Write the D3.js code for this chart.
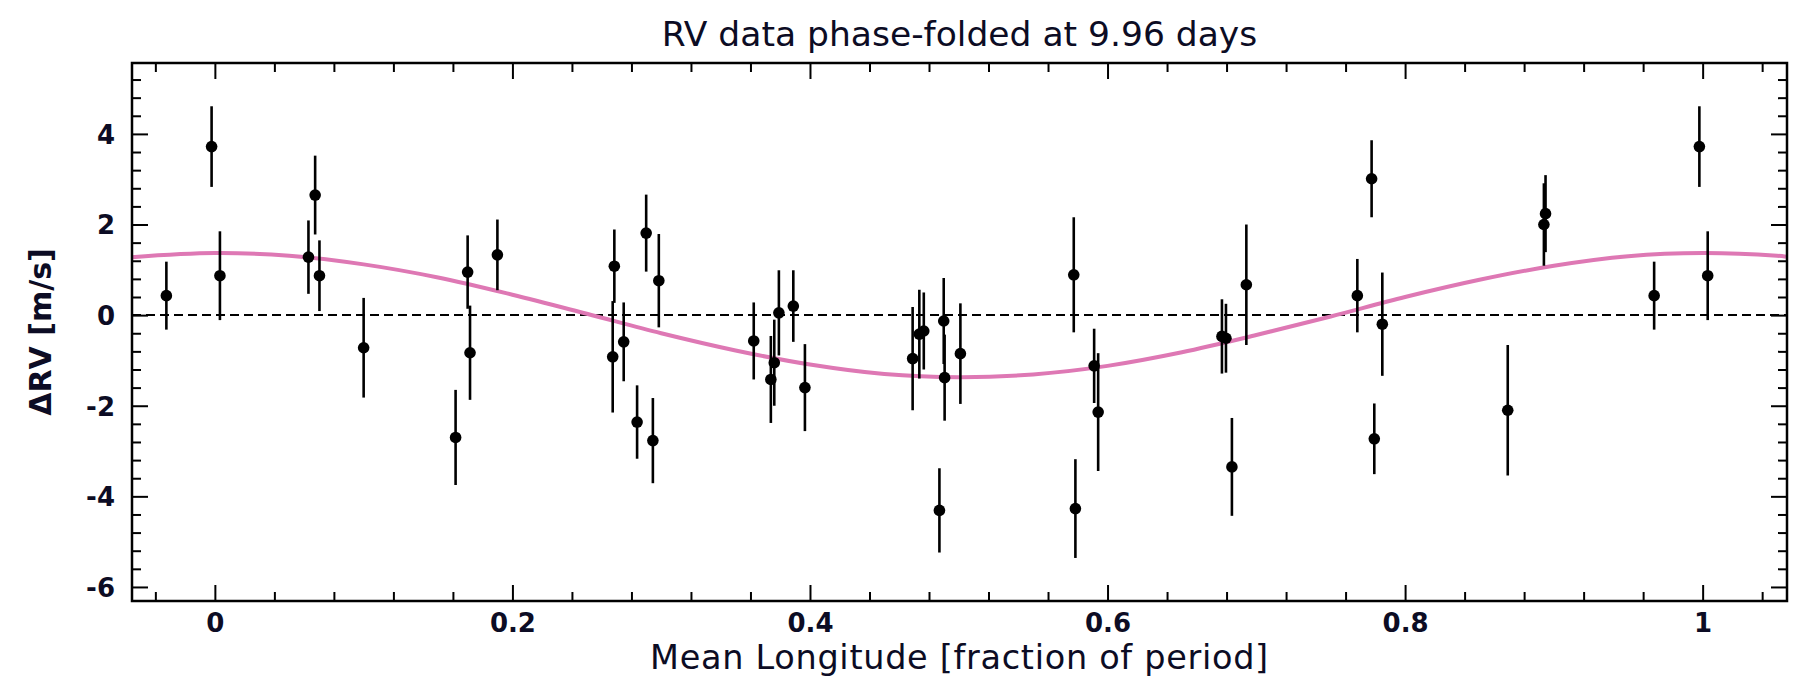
<!DOCTYPE html>
<html>
<head>
<meta charset="utf-8">
<script src="https://cdn.jsdelivr.net/npm/d3@7"></script>
<style>
  body { margin: 0; background: #fff; }
  text { font-family: "DejaVu Sans", Verdana, sans-serif; fill: #0c0c24; }
</style>
</head>
<body>
<div class="canvas"></div>
<script>

// phase-folded RV points (phase in [0,1), values in m/s)
const phase = [0.0034, 0.0629, 0.0674, 0.0703, 0.1000, 0.1618, 0.1699, 0.1715, 0.1899,
  0.2674, 0.2685, 0.2748, 0.2838, 0.2899, 0.2944, 0.2984, 0.3622, 0.3737, 0.3760, 0.3791,
  0.3888, 0.3966, 0.4690, 0.4735, 0.4765, 0.4870, 0.4899, 0.4905, 0.5011, 0.5773, 0.5784,
  0.5910, 0.5937, 0.6769, 0.6796, 0.6836, 0.6933, 0.7679, 0.7775, 0.7793, 0.7847, 0.8690,
  0.8933, 0.8944, 0.9674, 0.9978];
const rv = [0.87, 1.28, 2.65, 0.87, -0.72, -2.70, 0.95, -0.83, 1.33,
  -0.92, 1.08, -0.59, -2.36, 1.81, -2.77, 0.76, -0.57, -1.42, -1.05, 0.05,
  0.20, -1.60, -0.96, -0.42, -0.35, -4.31, -0.13, -1.38, -0.85, 0.89, -4.27,
  -1.12, -2.14, -0.47, -0.51, -3.35, 0.67, 0.43, 3.01, -2.73, -0.20, -2.10,
  2.00, 2.24, 0.43, 3.72];
const rvErr = [0.98, 0.81, 0.87, 0.78, 1.10, 1.05, 0.81, 1.04, 0.78,
  1.23, 0.81, 0.87, 0.81, 0.85, 0.94, 1.03, 0.85, 0.96, 0.95, 0.94,
  0.79, 0.96, 1.14, 0.98, 0.85, 0.93, 0.95, 0.95, 1.11, 1.27, 1.09,
  0.82, 1.30, 0.82, 0.76, 1.08, 1.33, 0.81, 0.85, 0.78, 1.14, 1.44,
  0.91, 0.85, 0.75, 0.89];

// fitted model curve
const curvePhase = [-0.056, 0, 0.05, 0.10, 0.15, 0.20, 0.25, 0.30, 0.35, 0.40, 0.45, 0.50,
  0.55, 0.60, 0.65, 0.70, 0.75, 0.80, 0.85, 0.90, 0.95, 1.00, 1.05, 1.056];
const curveRv = [1.28, 1.37, 1.31, 1.12, 0.83, 0.45, 0.03, -0.40, -0.78, -1.09, -1.30, -1.37,
  -1.31, -1.12, -0.82, -0.44, -0.03, 0.40, 0.78, 1.09, 1.30, 1.37, 1.31, 1.29];

const xMajor = [0, 0.2, 0.4, 0.6, 0.8, 1];
const yMajor = [-6, -4, -2, 0, 2, 4];

const titleText = "RV data phase-folded at 9.96 days";
const xTitle = "Mean Longitude [fraction of period]";
const yTitle = "ΔRV [m/s]";

const svgWidth = 1793;
const svgHeight = 692;
const margin = {top: 63, right: 6, bottom: 91, left: 132};
const graphWidth = svgWidth - margin.left - margin.right;
const graphHeight = svgHeight - margin.top - margin.bottom;

const svg = d3.select('.canvas')
  .append('svg')
    .attr('width', svgWidth)
    .attr('height', svgHeight);

const graph = svg.append('g')
  .attr('transform', `translate(${margin.left},${margin.top})`);

const x = d3.scaleLinear().domain([-0.0557, 1.0567]).range([0, graphWidth]);
const y = d3.scaleLinear().domain([-6.31, 5.565]).range([graphHeight, 0]);

const xMinor = d3.range(-0.04, 1.05, 0.04).map(d => +d.toFixed(2))
  .filter(d => !xMajor.some(m => Math.abs(m - d) < 1e-6));
const yMinor = d3.range(-6, 5.3, 0.4).map(d => +d.toFixed(1))
  .filter(d => !yMajor.some(m => Math.abs(m - d) < 1e-6));

// zero line
graph.append('line')
  .attr('x1', 0).attr('x2', graphWidth)
  .attr('y1', y(0)).attr('y2', y(0))
  .attr('stroke', '#000')
  .attr('stroke-width', 2)
  .attr('stroke-dasharray', '9,5');

// model curve
const curveData = curvePhase.map((p, i) => ({p: p, v: curveRv[i]}));
graph.append('path')
  .datum(curveData)
  .attr('fill', 'none')
  .attr('stroke', '#de78b4')
  .attr('stroke-width', 4)
  .attr('d', d3.line().x(d => x(d.p)).y(d => y(d.v)).curve(d3.curveCatmullRom));

// repeat points that fall inside the extended phase range
const [xmin, xmax] = x.domain();
const points = [];
phase.forEach((p, i) => {
  [p - 1, p, p + 1].forEach(q => {
    if (q >= xmin && q <= xmax) points.push({p: q, v: rv[i], e: rvErr[i]});
  });
});

graph.selectAll('line.err')
  .data(points)
  .enter().append('line')
    .attr('class', 'err')
    .attr('x1', d => x(d.p)).attr('x2', d => x(d.p))
    .attr('y1', d => y(d.v - d.e)).attr('y2', d => y(d.v + d.e))
    .attr('stroke', '#000')
    .attr('stroke-width', 2.6);

graph.selectAll('circle')
  .data(points)
  .enter().append('circle')
    .attr('cx', d => x(d.p))
    .attr('cy', d => y(d.v))
    .attr('r', 5.8)
    .attr('fill', '#000');

// axes with inward ticks on all four sides
function styleAxis(g) {
  g.select('.domain').remove();
  g.selectAll('line').attr('stroke', '#000').attr('stroke-width', 2);
}

const major = 16, minor = 9;

graph.append('g')
  .attr('transform', `translate(0,${graphHeight})`)
  .call(d3.axisBottom(x).tickValues(xMajor).tickSize(-major).tickFormat(d => String(d)))
  .call(styleAxis)
  .call(g => g.selectAll('text')
    .attr('y', 31).attr('dy', 0)
    .style('font-size', '26px').style('font-weight', 'bold').attr('fill', '#0c0c24'));
graph.append('g')
  .attr('transform', `translate(0,${graphHeight})`)
  .call(d3.axisBottom(x).tickValues(xMinor).tickSize(-minor).tickFormat(''))
  .call(styleAxis);
graph.append('g')
  .call(d3.axisTop(x).tickValues(xMajor).tickSize(-major).tickFormat(''))
  .call(styleAxis);
graph.append('g')
  .call(d3.axisTop(x).tickValues(xMinor).tickSize(-minor).tickFormat(''))
  .call(styleAxis);

graph.append('g')
  .call(d3.axisLeft(y).tickValues(yMajor).tickSize(-major).tickFormat(d => String(d)))
  .call(styleAxis)
  .call(g => g.selectAll('text')
    .attr('x', -17).attr('dy', '0.36em')
    .style('font-size', '26px').style('font-weight', 'bold').attr('fill', '#0c0c24'));
graph.append('g')
  .call(d3.axisLeft(y).tickValues(yMinor).tickSize(-minor).tickFormat(''))
  .call(styleAxis);
graph.append('g')
  .attr('transform', `translate(${graphWidth},0)`)
  .call(d3.axisRight(y).tickValues(yMajor).tickSize(-major).tickFormat(''))
  .call(styleAxis);
graph.append('g')
  .attr('transform', `translate(${graphWidth},0)`)
  .call(d3.axisRight(y).tickValues(yMinor).tickSize(-minor).tickFormat(''))
  .call(styleAxis);

// frame
graph.append('rect')
  .attr('width', graphWidth).attr('height', graphHeight)
  .attr('fill', 'none')
  .attr('stroke', '#000')
  .attr('stroke-width', 2.5);

// titles
svg.append('text')
  .attr('x', margin.left + graphWidth / 2)
  .attr('y', 46)
  .attr('text-anchor', 'middle')
  .style('font-size', '34.5px')
  .text(titleText);

svg.append('text')
  .attr('x', margin.left + graphWidth / 2)
  .attr('y', 669)
  .attr('text-anchor', 'middle')
  .style('font-size', '33.5px')
  .style('letter-spacing', '0.7px')
  .text(xTitle);

svg.append('text')
  .attr('transform', `translate(51,${margin.top + graphHeight / 2}) rotate(-90)`)
  .attr('text-anchor', 'middle')
  .style('font-size', '30px')
  .style('font-weight', 'bold')
  .text(yTitle);

</script>
</body>
</html>
